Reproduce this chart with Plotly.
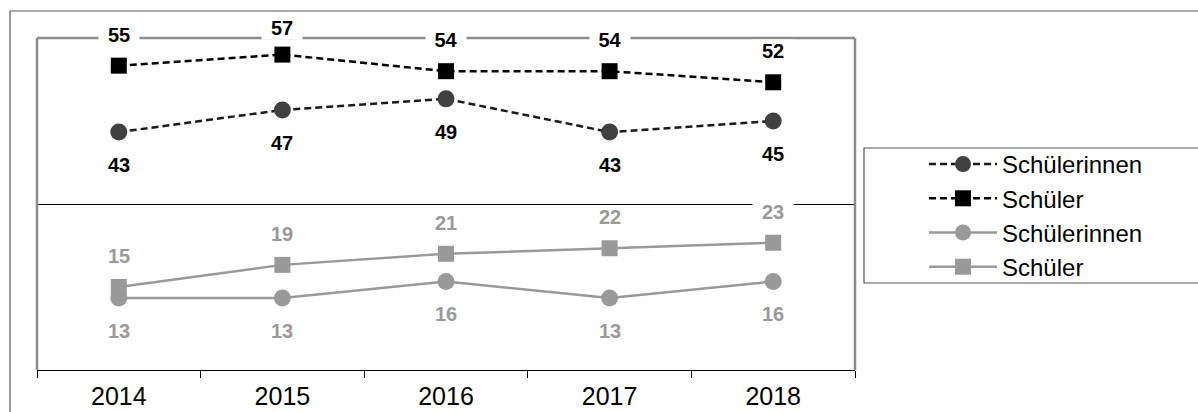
import plotly.graph_objects as go

years = ["2014", "2015", "2016", "2017", "2018"]
dark_girls = [43, 47, 49, 43, 45]
dark_boys = [55, 57, 54, 54, 52]
gray_girls = [13, 13, 16, 13, 16]
gray_boys = [15, 19, 21, 22, 23]
series_names = ["Schülerinnen", "Schüler", "Schülerinnen", "Schüler"]

BLACK = "#000000"
DARK = "#404040"
GRAY = "#999999"
FONT = "Arial, Liberation Sans, sans-serif"

W, H = 1198, 412
L, R, T, B = 37, 855, 38, 370  # plot area in pixels
Y_MAX = 60


def px(xp):
    return (xp - L) / (R - L)


def py(yp):
    return (B - yp) / (B - T)


fig = go.Figure()

fig.add_trace(go.Scatter(
    x=years, y=dark_girls, name=series_names[0], mode="lines+markers",
    line=dict(color="#1a1a1a", width=2.5, dash="7px,4px"),
    marker=dict(symbol="circle", size=17, color=DARK),
    legendgroup="a",
))
fig.add_trace(go.Scatter(
    x=years, y=dark_boys, name=series_names[1], mode="lines+markers",
    line=dict(color=BLACK, width=2.5, dash="7px,4px"),
    marker=dict(symbol="square", size=16, color=BLACK),
    legendgroup="b",
))
fig.add_trace(go.Scatter(
    x=years, y=gray_girls, name=series_names[2], mode="lines+markers",
    line=dict(color=GRAY, width=2.5),
    marker=dict(symbol="circle", size=17, color=GRAY),
    legendgroup="c",
))
fig.add_trace(go.Scatter(
    x=years, y=gray_boys, name=series_names[3], mode="lines+markers",
    line=dict(color=GRAY, width=2.5),
    marker=dict(symbol="square", size=16, color=GRAY),
    legendgroup="d",
))

# value labels with white background boxes (x given as category index);
# labels above the marks are kept from running past the top of the figure
annotations = []


def add_labels(values, color, shift):
    for i, v in enumerate(values):
        s = shift
        if shift > 0:
            mark_y = B - v / Y_MAX * (B - T)
            s = min(shift, mark_y - 28.5)
        annotations.append(dict(
            x=i, y=v, xref="x", yref="y", text=f"<b>{v}</b>",
            showarrow=False, yshift=s, width=40, height=22,
            bgcolor="white", borderpad=0,
            font=dict(family=FONT, size=20, color=color),
        ))


add_labels(dark_boys, BLACK, 31)
add_labels(dark_girls, BLACK, -33)
add_labels(gray_boys, GRAY, 31)
add_labels(gray_girls, GRAY, -33)

shapes = [
    # outer frame (top and left edges)
    dict(type="line", xref="paper", yref="paper", x0=px(10), x1=px(1210),
         y0=py(11), y1=py(11), line=dict(color="#555555", width=1.2)),
    dict(type="line", xref="paper", yref="paper", x0=px(10), x1=px(10),
         y0=py(11), y1=py(420), line=dict(color="#555555", width=1.2)),
    # plot area frame: left, top, right
    dict(type="line", xref="paper", yref="paper", x0=0, x1=0, y0=0, y1=1,
         line=dict(color="#8c8c8c", width=2.5)),
    dict(type="line", xref="paper", yref="paper", x0=0, x1=1, y0=1, y1=1,
         line=dict(color="#8c8c8c", width=2.5)),
    dict(type="line", xref="paper", yref="paper", x0=1, x1=1, y0=0, y1=1,
         line=dict(color="#8c8c8c", width=2.5)),
    # legend frame
    dict(type="rect", xref="paper", yref="paper", x0=px(864), x1=px(1215),
         y0=py(283), y1=py(148), line=dict(color="#555555", width=1.2)),
]

fig.update_layout(
    width=W, height=H,
    margin=dict(l=L, r=W - R, t=T, b=H - B, autoexpand=False),
    paper_bgcolor="white", plot_bgcolor="white",
    font=dict(family=FONT, color=BLACK),
    showlegend=True,
    legend=dict(
        x=px(924), y=py(142), xanchor="left", yanchor="top",
        font=dict(family=FONT, size=24, color=BLACK),
        bgcolor="rgba(0,0,0,0)", borderwidth=0,
        traceorder="grouped", tracegroupgap=0, itemwidth=68,
    ),
    xaxis=dict(
        type="category", range=[-0.5, 4.5], tickson="boundaries",
        ticks="outside", ticklen=7, tickcolor=BLACK, tickwidth=1,
        showline=True, linecolor=BLACK, linewidth=1.2,
        showgrid=False, zeroline=False, automargin=False,
        tickfont=dict(family=FONT, size=25, color=BLACK),
        ticklabelstandoff=4,
        fixedrange=True,
    ),
    yaxis=dict(
        range=[0, Y_MAX], tickvals=[30], showticklabels=False,
        showgrid=True, gridcolor=BLACK, gridwidth=1,
        showline=False, zeroline=False, ticks="", automargin=False,
        fixedrange=True,
    ),
    shapes=shapes,
    annotations=annotations,
)

fig.write_html("out.html", config={"displayModeBar": False})
